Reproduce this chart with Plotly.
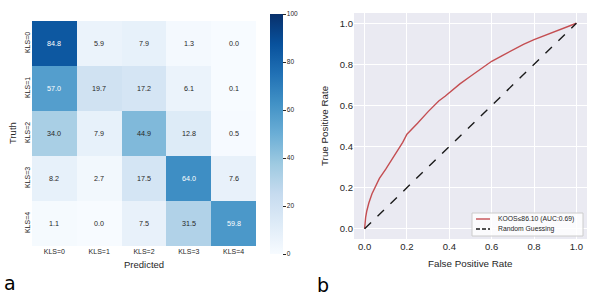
import plotly.graph_objects as go

# ---- data ----
classes = ["KLS=0", "KLS=1", "KLS=2", "KLS=3", "KLS=4"]
row_kls0 = [84.8, 5.9, 7.9, 1.3, 0.0]
row_kls1 = [57.0, 19.7, 17.2, 6.1, 0.1]
row_kls2 = [34.0, 7.9, 44.9, 12.8, 0.5]
row_kls3 = [8.2, 2.7, 17.5, 64.0, 7.6]
row_kls4 = [1.1, 0.0, 7.5, 31.5, 59.8]
colorbar_ticks = [0, 20, 40, 60, 80, 100]

roc_fpr = [0, 0.002, 0.005, 0.01, 0.02, 0.035, 0.05, 0.07, 0.1, 0.13, 0.16, 0.18, 0.2,
           0.23, 0.25, 0.3, 0.35, 0.38, 0.42, 0.45, 0.5, 0.55, 0.6, 0.65, 0.7, 0.75,
           0.8, 0.85, 0.9, 0.95, 1.0]
roc_tpr = [0, 0.03, 0.055, 0.085, 0.125, 0.17, 0.2, 0.245, 0.29, 0.34, 0.385, 0.42, 0.46,
           0.495, 0.513, 0.57, 0.622, 0.645, 0.68, 0.705, 0.742, 0.78, 0.815, 0.843, 0.872,
           0.897, 0.92, 0.94, 0.962, 0.982, 1.0]
diag = [0, 1]
roc_ticks = [0.0, 0.2, 0.4, 0.6, 0.8, 1.0]
legend_labels = ["KOOS≤86.10 (AUC:0.69)", "Random Guessing"]

matrix = [row_kls0, row_kls1, row_kls2, row_kls3, row_kls4]

W, H = 598, 301


def px(x):
    return x / W


def py(y):
    return (H - y) / H


FONT = "Liberation Sans, Arial, sans-serif"
TXT = "#262626"

blues = ["#f7fbff", "#deebf7", "#c6dbef", "#9ecae1", "#6baed6",
         "#4292c6", "#2171b5", "#08519c", "#08306b"]
cscale = [[i / (len(blues) - 1), c] for i, c in enumerate(blues)]

fig = go.Figure()

fig.add_trace(go.Heatmap(
    z=matrix, x=classes, y=classes, zmin=0, zmax=100,
    colorscale=cscale, xaxis="x", yaxis="y", hoverinfo="skip",
    colorbar=dict(
        x=px(270), xanchor="left", thickness=13, xpad=0, ypad=0,
        lenmode="pixels", len=240, y=py(254), yanchor="bottom",
        outlinewidth=0, ticks="outside", ticklen=3, tickwidth=1, tickcolor=TXT,
        tickvals=colorbar_ticks, tickfont=dict(size=6.5, color=TXT, family=FONT),
    ),
))

annotations = []
for i, row in enumerate(matrix):
    for j, v in enumerate(row):
        annotations.append(dict(
            x=classes[j], y=classes[i], xref="x", yref="y", text=f"{v:.1f}",
            showarrow=False, xanchor="center", yanchor="middle",
            font=dict(size=7.2, family=FONT, color="white" if v > 50 else TXT),
        ))

roc_color = "#C44E52"
diag_color = "#1a1a1a"
fig.add_trace(go.Scatter(
    x=roc_fpr, y=roc_tpr, mode="lines", xaxis="x2", yaxis="y2",
    line=dict(color=roc_color, width=1.4), name=legend_labels[0], showlegend=False,
))
fig.add_trace(go.Scatter(
    x=diag, y=diag, mode="lines", xaxis="x2", yaxis="y2",
    line=dict(color=diag_color, width=1.4, dash="dash"), name=legend_labels[1],
    showlegend=False,
))


def label(text, x, y, size, angle=0, family=FONT, color=TXT):
    return dict(text=text, x=px(x), y=py(y), xref="paper", yref="paper",
                xanchor="center", yanchor="middle", textangle=angle, showarrow=False,
                font=dict(size=size, family=family, color=color))


annotations += [
    label("Predicted", 144, 264, 9.5),
    label("Truth", 12.5, 133.5, 9.5, -90),
    label("False Positive Rate", 300 + 512 / 3, 263, 9.8),
    label("True Positive Rate", 325, 126, 9.8, -90),
    label("a", 10, 283, 19, family="DejaVu Sans", color="black"),
    label("b", 323, 285, 19, family="DejaVu Sans", color="black"),
]

# matplotlib-style legend box
shapes = [
    dict(type="rect", xref="paper", yref="paper", x0=px(472), x1=px(583),
         y0=py(236), y1=py(213), fillcolor="rgba(255,255,255,0.8)",
         line=dict(color="#cccccc", width=1), layer="above"),
]
leg_rows = [(roc_color, "solid", 219), (diag_color, "4px,2px", 229)]
for (col, dash, yy), lab in zip(leg_rows, legend_labels):
    shapes.append(dict(type="line", xref="paper", yref="paper", x0=px(476), x1=px(490),
                       y0=py(yy), y1=py(yy), line=dict(color=col, width=1.4, dash=dash),
                       layer="above"))
    annotations.append(dict(text=lab, x=px(496), y=py(yy), xref="paper", yref="paper",
                            xanchor="left", yanchor="middle", showarrow=False,
                            font=dict(size=6.8, family=FONT, color=TXT)))

fig.update_layout(
    width=W, height=H, margin=dict(l=0, r=0, t=0, b=0),
    paper_bgcolor="white", plot_bgcolor="#EAEAF2",
    font=dict(family=FONT, color=TXT),
    annotations=annotations, shapes=shapes, showlegend=False,
    xaxis=dict(domain=[px(32), px(256)], anchor="y", showgrid=False, zeroline=False,
               ticks="", tickfont=dict(size=7, color=TXT)),
    yaxis=dict(domain=[py(246), py(21)], anchor="x", autorange="reversed",
               showgrid=False, zeroline=False, ticks="", tickangle=-90,
               tickfont=dict(size=7, color=TXT)),
    xaxis2=dict(domain=[px(354), px(587)], anchor="y2", range=[-0.05, 1.05],
                tickvals=roc_ticks, tickformat=".1f", gridcolor="white", gridwidth=1,
                zeroline=False, showline=False, ticks="",
                tickfont=dict(size=9.5, color=TXT)),
    yaxis2=dict(domain=[py(239), py(13)], anchor="x2", range=[-0.05, 1.05],
                tickvals=roc_ticks, tickformat=".1f", gridcolor="white", gridwidth=1,
                zeroline=False, showline=False, ticks="",
                tickfont=dict(size=9.5, color=TXT)),
)

fig.write_html("out.html", config={"displayModeBar": False},
               post_script="document.body.style.margin='0';")
